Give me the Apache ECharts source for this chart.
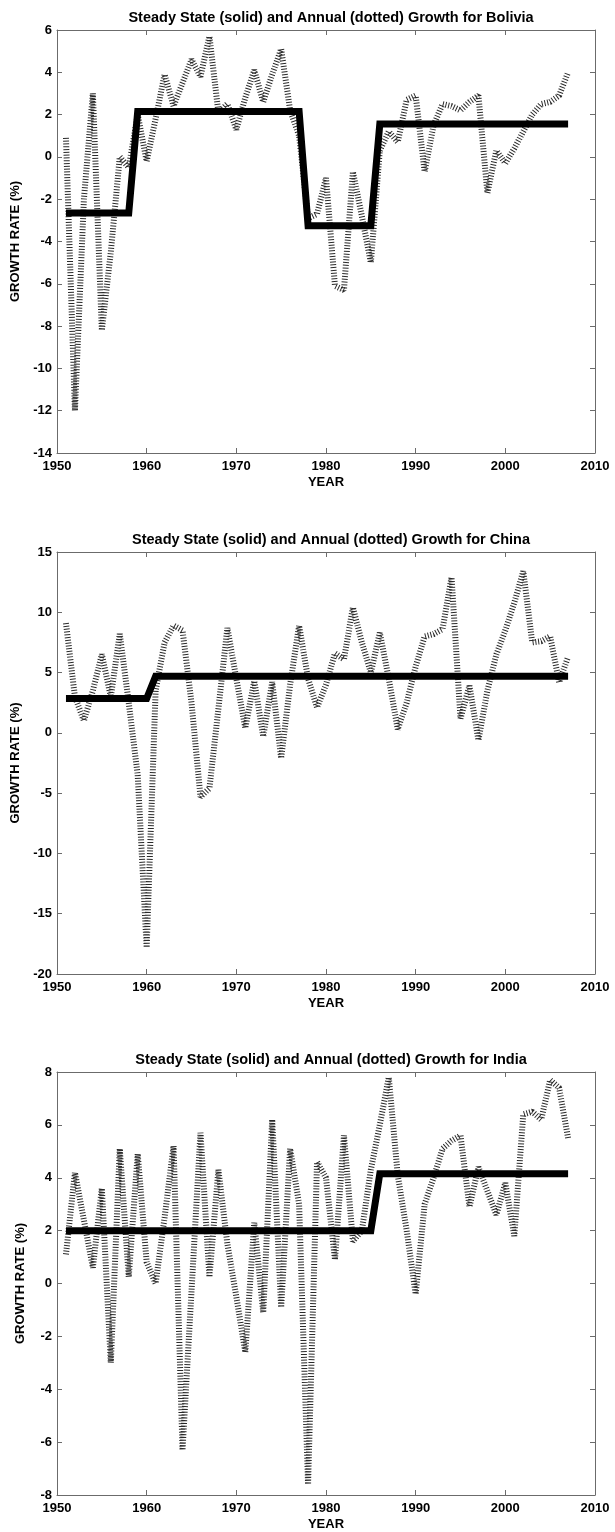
<!DOCTYPE html>
<html>
<head>
<meta charset="utf-8">
<title>Steady State and Annual Growth</title>
<script src="https://cdn.jsdelivr.net/npm/echarts@6/dist/echarts.min.js"></script>
<style>
  html, body { margin: 0; padding: 0; background: #fff; }
  #chart { width: 615px; height: 1532px; }
</style>
</head>
<body>
<div id="chart"></div>
<script>
// Years covered by every panel
const years = [
  1951, 1952, 1953, 1954, 1955, 1956, 1957, 1958, 1959, 1960,
  1961, 1962, 1963, 1964, 1965, 1966, 1967, 1968, 1969, 1970,
  1971, 1972, 1973, 1974, 1975, 1976, 1977, 1978, 1979, 1980,
  1981, 1982, 1983, 1984, 1985, 1986, 1987, 1988, 1989, 1990,
  1991, 1992, 1993, 1994, 1995, 1996, 1997, 1998, 1999, 2000,
  2001, 2002, 2003, 2004, 2005, 2006, 2007
];

// Bolivia: annual growth (%) and steady-state growth (%)
const boliviaAnnual = [
  0.9, -12.0, -2.0, 3.0, -8.2, -4.5, 0.0, -0.5, 2.0, -0.2,
  1.8, 3.9, 2.4, 3.5, 4.6, 3.8, 5.7, 2.1, 2.5, 1.3,
  2.8, 4.1, 2.6, 3.9, 5.1, 2.2, 1.0, -2.9, -2.7, -1.0,
  -6.1, -6.3, -0.7, -2.8, -5.0, 0.3, 1.2, 0.7, 2.7, 2.9,
  -0.7, 1.5, 2.5, 2.4, 2.2, 2.6, 2.9, -1.7, 0.3, -0.3,
  0.4, 1.2, 2.0, 2.5, 2.6, 2.9, 4.0
];
const boliviaSteady = [
  -2.65, -2.65, -2.65, -2.65, -2.65, -2.65, -2.65, -2.65, 2.15, 2.15,
  2.15, 2.15, 2.15, 2.15, 2.15, 2.15, 2.15, 2.15, 2.15, 2.15,
  2.15, 2.15, 2.15, 2.15, 2.15, 2.15, 2.15, -3.25, -3.25, -3.25,
  -3.25, -3.25, -3.25, -3.25, -3.25, 1.55, 1.55, 1.55, 1.55, 1.55,
  1.55, 1.55, 1.55, 1.55, 1.55, 1.55, 1.55, 1.55, 1.55, 1.55,
  1.55, 1.55, 1.55, 1.55, 1.55, 1.55, 1.55
];

// China: annual growth (%) and steady-state growth (%)
const chinaAnnual = [
  9.1, 3.0, 1.0, 3.5, 6.5, 3.0, 8.2, 2.5, -3.5, -17.8,
  3.5, 7.5, 8.9, 8.5, 2.5, -5.3, -4.6, 2.0, 8.7, 4.5,
  0.4, 4.3, -0.3, 4.2, -2.1, 4.0, 8.9, 4.5, 2.1, 4.0,
  6.6, 6.1, 10.4, 7.5, 5.0, 8.3, 4.5, 0.3, 2.5, 5.5,
  8.0, 8.2, 8.6, 12.9, 1.2, 3.9, -0.6, 3.5, 6.5, 8.5,
  10.8, 13.4, 7.5, 7.6, 8.0, 4.2, 6.3
];
const chinaSteady = [
  2.85, 2.85, 2.85, 2.85, 2.85, 2.85, 2.85, 2.85, 2.85, 2.85,
  4.7, 4.7, 4.7, 4.7, 4.7, 4.7, 4.7, 4.7, 4.7, 4.7,
  4.7, 4.7, 4.7, 4.7, 4.7, 4.7, 4.7, 4.7, 4.7, 4.7,
  4.7, 4.7, 4.7, 4.7, 4.7, 4.7, 4.7, 4.7, 4.7, 4.7,
  4.7, 4.7, 4.7, 4.7, 4.7, 4.7, 4.7, 4.7, 4.7, 4.7,
  4.7, 4.7, 4.7, 4.7, 4.7, 4.7, 4.7
];

// India: annual growth (%) and steady-state growth (%)
const indiaAnnual = [
  1.1, 4.2, 2.4, 0.6, 3.6, -3.0, 5.1, 0.25, 4.9, 0.8,
  0.0, 2.5, 5.2, -6.3, -0.3, 5.7, 0.25, 4.3, 1.5, -0.5,
  -2.6, 2.3, -1.1, 6.2, -0.9, 5.1, 3.0, -7.6, 4.6, 4.0,
  0.9, 5.6, 1.6, 2.0, 4.3, 6.0, 7.8, 4.1, 2.0, -0.4,
  3.0, 4.0, 5.1, 5.4, 5.6, 2.9, 4.4, 3.5, 2.6, 3.8,
  1.8, 6.4, 6.5, 6.2, 7.7, 7.4, 5.5
];
const indiaSteady = [
  2.0, 2.0, 2.0, 2.0, 2.0, 2.0, 2.0, 2.0, 2.0, 2.0,
  2.0, 2.0, 2.0, 2.0, 2.0, 2.0, 2.0, 2.0, 2.0, 2.0,
  2.0, 2.0, 2.0, 2.0, 2.0, 2.0, 2.0, 2.0, 2.0, 2.0,
  2.0, 2.0, 2.0, 2.0, 2.0, 4.15, 4.15, 4.15, 4.15, 4.15,
  4.15, 4.15, 4.15, 4.15, 4.15, 4.15, 4.15, 4.15, 4.15, 4.15,
  4.15, 4.15, 4.15, 4.15, 4.15, 4.15, 4.15
];

// Axis ranges
const xRange = { min: 1950, max: 2010, interval: 10 };
const yRanges = [
  { min: -14, max: 6, interval: 2 },
  { min: -20, max: 15, interval: 5 },
  { min: -8, max: 8, interval: 2 }
];

const panels = [
  { country: 'Bolivia', annual: boliviaAnnual, steady: boliviaSteady },
  { country: 'China', annual: chinaAnnual, steady: chinaSteady },
  { country: 'India', annual: indiaAnnual, steady: indiaSteady }
];

const FONT = '"Liberation Sans", Arial, Helvetica, sans-serif';
const AXIS_COLOR = '#6b6b6b';
const gridBoxes = [
  { left: 57, top: 30, width: 538, height: 423 },
  { left: 57, top: 552, width: 538, height: 422 },
  { left: 57, top: 1072, width: 538, height: 423 }
];

const pairs = (vals) => years.map((y, i) => [y, vals[i]]);

const labelStyle = { color: '#000', fontFamily: FONT, fontSize: 13, fontWeight: 'bold' };

const option = {
  animation: false,
  backgroundColor: '#fff',
  title: [],
  grid: [],
  xAxis: [],
  yAxis: [],
  series: []
};

panels.forEach((p, i) => {
  const box = gridBoxes[i];
  option.grid.push(Object.assign({ containLabel: false }, box));
  option.title.push({
    text: 'Steady State (solid) and Annual (dotted) Growth for ' + p.country,
    left: box.left + box.width / 2,
    top: box.top - 25,
    textAlign: 'center',
    textStyle: { color: '#000', fontFamily: FONT, fontSize: 14.5, fontWeight: 'bold' }
  });

  const tick = { show: true, inside: true, length: 5, lineStyle: { color: AXIS_COLOR, width: 1 } };
  const line = { show: true, onZero: false, lineStyle: { color: AXIS_COLOR, width: 1 } };

  // bottom x axis with labels
  option.xAxis.push({
    type: 'value', gridIndex: i, position: 'bottom',
    min: xRange.min, max: xRange.max, interval: xRange.interval,
    axisLine: line, axisTick: tick, splitLine: { show: false },
    axisLabel: Object.assign({ margin: 7, formatter: (v) => String(v) }, labelStyle),
    name: 'YEAR', nameLocation: 'middle', nameGap: 23,
    nameTextStyle: labelStyle
  });
  // top x axis: box edge with inward ticks
  option.xAxis.push({
    type: 'value', gridIndex: i, position: 'top',
    min: xRange.min, max: xRange.max, interval: xRange.interval,
    axisLine: line, axisTick: tick, splitLine: { show: false },
    axisLabel: { show: false }
  });
  // left y axis with labels
  option.yAxis.push({
    type: 'value', gridIndex: i, position: 'left',
    min: yRanges[i].min, max: yRanges[i].max, interval: yRanges[i].interval,
    axisLine: line, axisTick: tick, splitLine: { show: false },
    axisLabel: Object.assign({ margin: 5 }, labelStyle),
    name: 'GROWTH RATE (%)', nameLocation: 'middle', nameGap: 30, nameRotate: 90,
    nameTextStyle: labelStyle
  });
  // right y axis: box edge with inward ticks
  option.yAxis.push({
    type: 'value', gridIndex: i, position: 'right',
    min: yRanges[i].min, max: yRanges[i].max, interval: yRanges[i].interval,
    axisLine: line, axisTick: tick, splitLine: { show: false },
    axisLabel: { show: false }
  });

  // annual growth: thick dotted line
  option.series.push({
    type: 'line', name: p.country + ' annual',
    xAxisIndex: 2 * i, yAxisIndex: 2 * i,
    data: pairs(p.annual),
    symbol: 'none', silent: true,
    lineStyle: { color: '#2a2a2a', width: 6, type: [1, 1.8], cap: 'butt', join: 'bevel' }
  });
  // steady-state growth: thick solid line on top
  option.series.push({
    type: 'line', name: p.country + ' steady state',
    xAxisIndex: 2 * i, yAxisIndex: 2 * i,
    data: pairs(p.steady),
    symbol: 'none', silent: true, z: 3,
    lineStyle: { color: '#000', width: 7, type: 'solid', cap: 'butt', join: 'miter' }
  });
});

const chart = echarts.init(document.getElementById('chart'), null, { renderer: 'canvas', width: 615, height: 1532 });
chart.setOption(option);
</script>
</body>
</html>
